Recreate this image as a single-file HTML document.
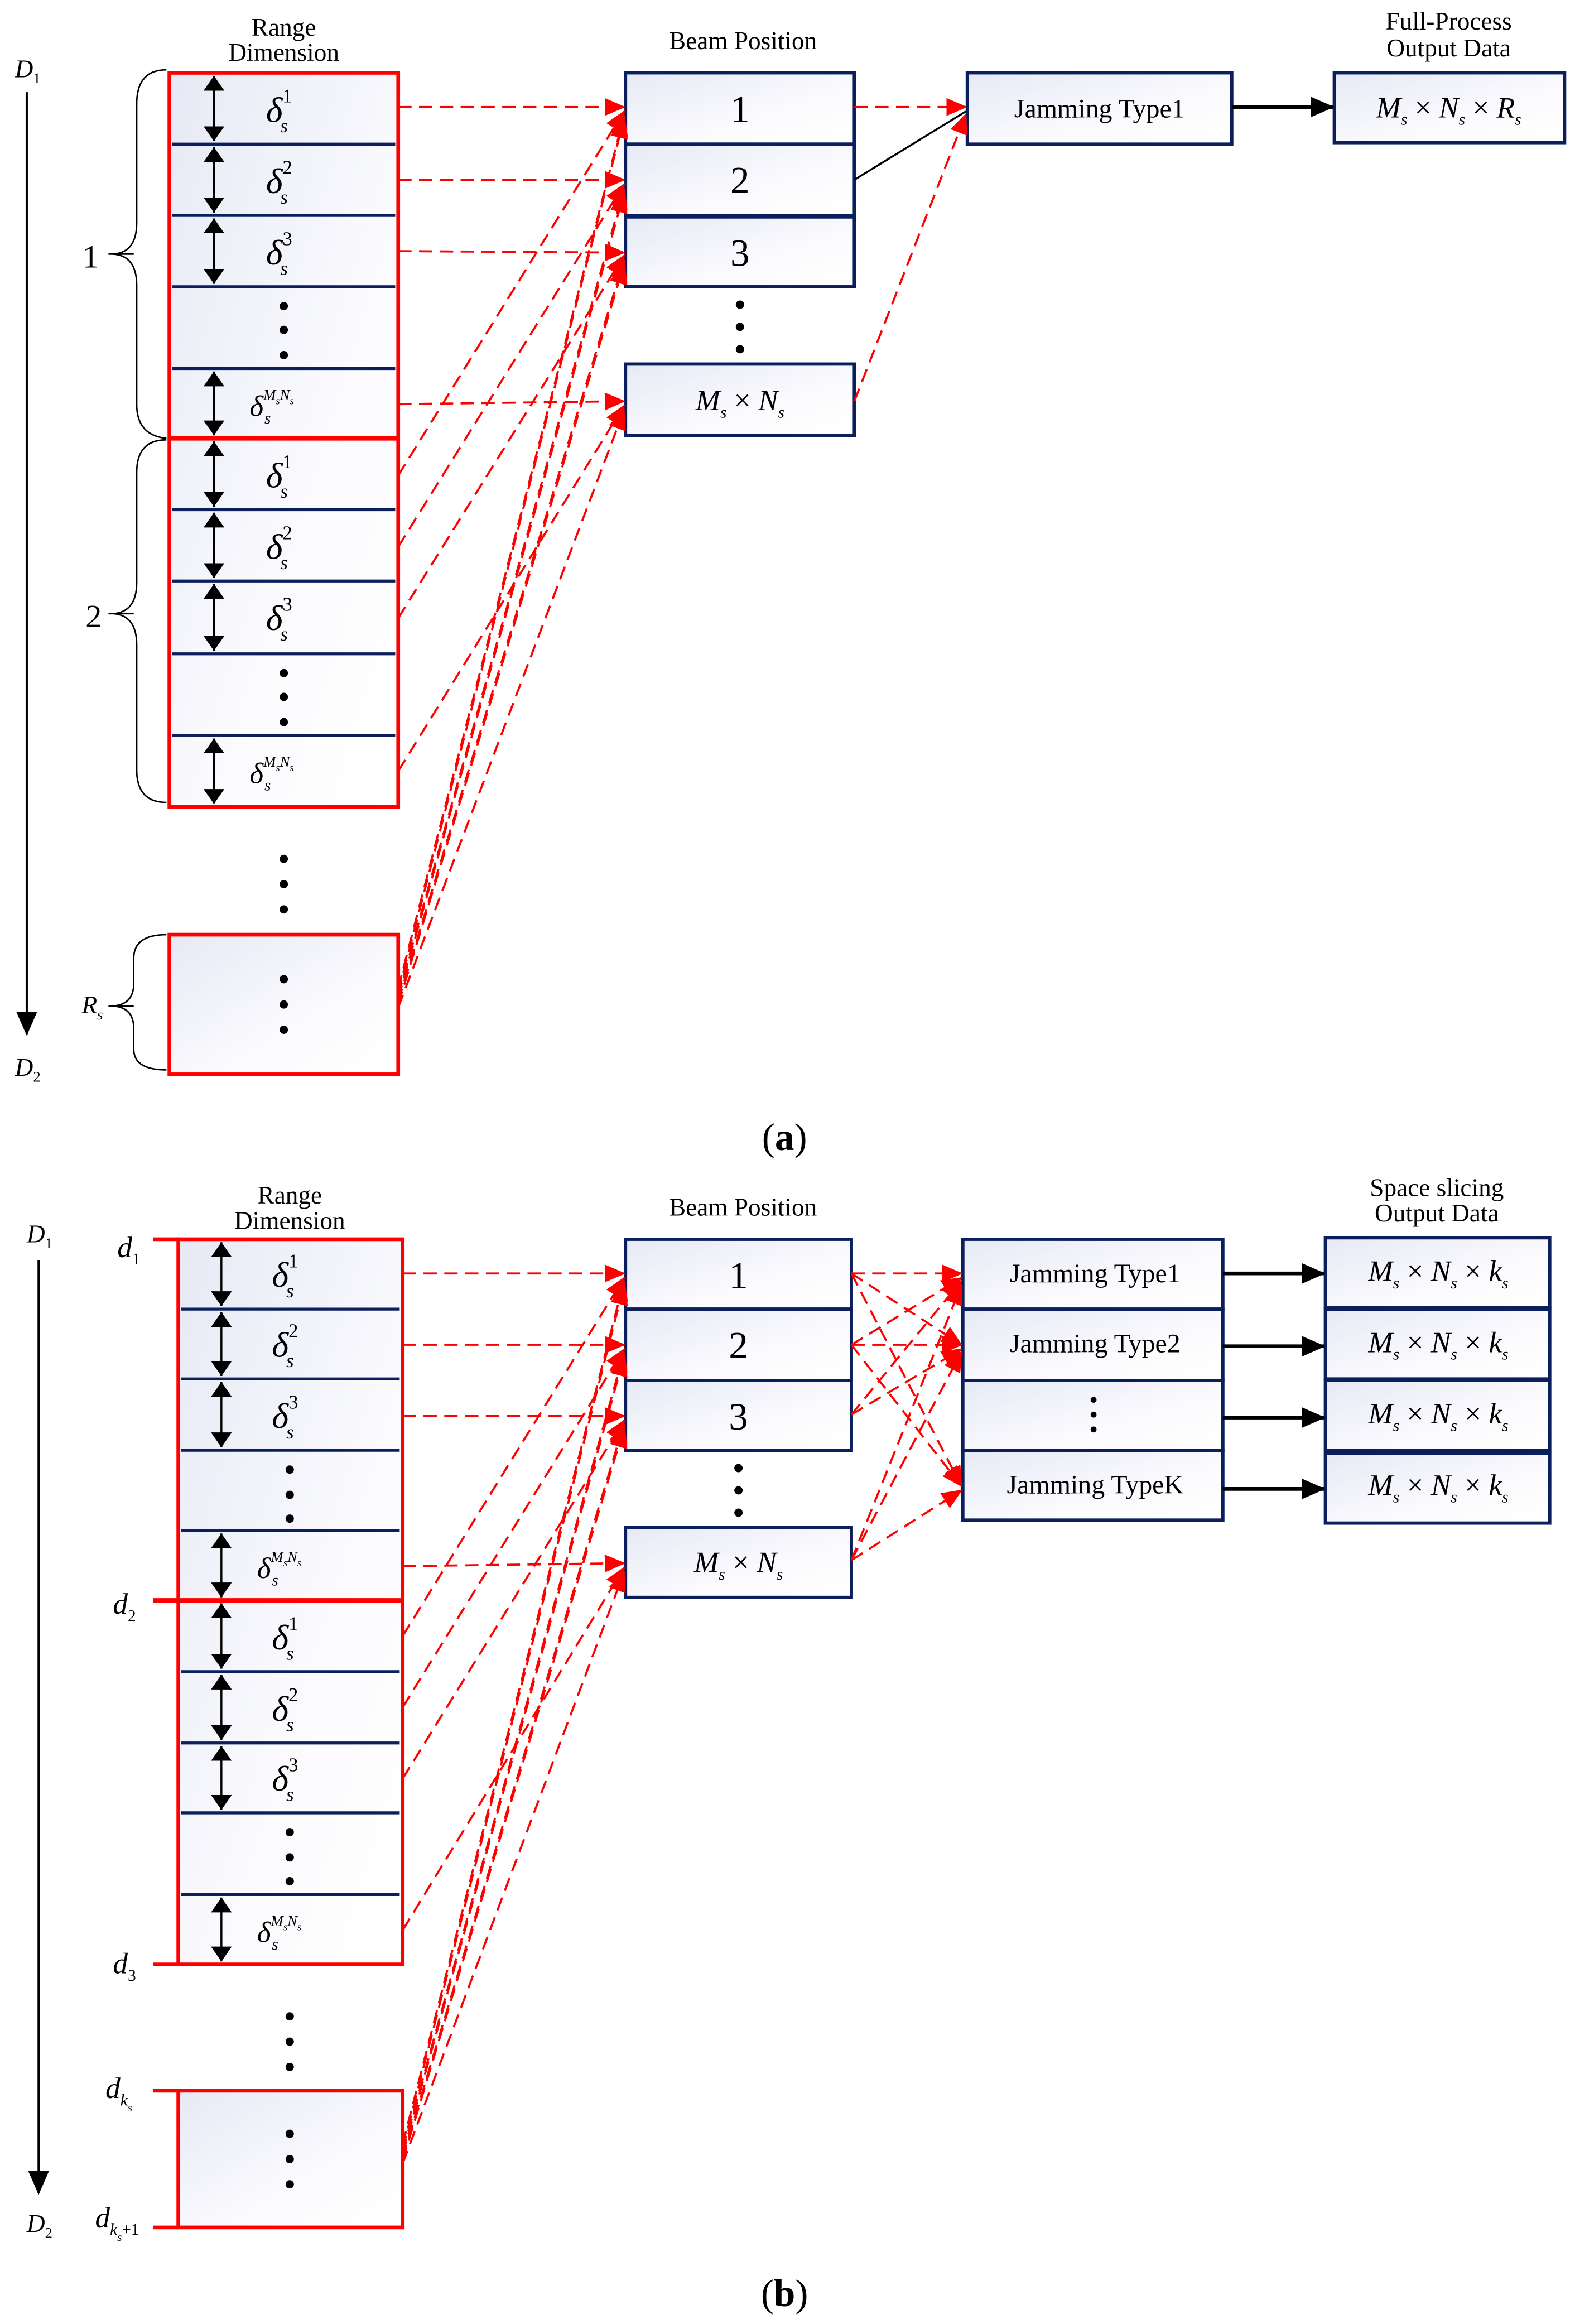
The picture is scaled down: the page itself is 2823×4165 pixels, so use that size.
<!DOCTYPE html>
<html><head><meta charset="utf-8"><style>
html,body{margin:0;padding:0;background:#fff;}
svg{display:block;}
text{font-family:"Liberation Serif",serif;fill:#000;}
.m{font-style:italic;}
.u{font-style:normal;}
</style></head><body>
<svg width="2823" height="4165" viewBox="0 0 1060 1564" preserveAspectRatio="none" xmlns="http://www.w3.org/2000/svg">
<defs>
<linearGradient id="g" x1="0" y1="0" x2="1" y2="1">
<stop offset="0" stop-color="#e6e9f5"/><stop offset="0.6" stop-color="#fbfbfe"/><stop offset="1" stop-color="#ffffff"/>
</linearGradient>
<marker id="ra" markerUnits="userSpaceOnUse" markerWidth="14" markerHeight="14" refX="13" refY="7" orient="auto"><path d="M0,1 L14,7 L0,13 z" fill="#f00"/></marker>
<marker id="ba" markerUnits="userSpaceOnUse" markerWidth="16" markerHeight="16" refX="15" refY="8" orient="auto"><path d="M0,1 L16,8 L0,15 z" fill="#000"/></marker>
<marker id="da" markerUnits="userSpaceOnUse" markerWidth="10" markerHeight="16" refX="10" refY="8" orient="auto"><path d="M0,1 L10,8 L0,15 z" fill="#000"/></marker>
<marker id="dab" markerUnits="userSpaceOnUse" markerWidth="10" markerHeight="16" refX="10" refY="8" orient="auto-start-reverse"><path d="M0,1 L10,8 L0,15 z" fill="#000"/></marker>
</defs>

<!-- ============ (a) ============ -->
<text x="191" y="24" font-size="17" text-anchor="middle">Range</text>
<text x="191" y="41" font-size="17" text-anchor="middle">Dimension</text>
<text x="500" y="33" font-size="17" text-anchor="middle">Beam Position</text>
<text x="975" y="20" font-size="17" text-anchor="middle">Full-Process</text>
<text x="975" y="38" font-size="17" text-anchor="middle">Output Data</text>

<rect x="114" y="49" width="154" height="494" fill="url(#g)"/>
<rect x="114" y="629" width="154" height="94" fill="url(#g)"/>
<g stroke="#0a1f5c" stroke-width="2">
<line x1="116" y1="97" x2="266" y2="97"/><line x1="116" y1="145" x2="266" y2="145"/><line x1="116" y1="193" x2="266" y2="193"/><line x1="116" y1="248" x2="266" y2="248"/>
<line x1="116" y1="343" x2="266" y2="343"/><line x1="116" y1="391" x2="266" y2="391"/><line x1="116" y1="440" x2="266" y2="440"/><line x1="116" y1="495" x2="266" y2="495"/>
</g>
<g stroke="#000" stroke-width="1.3" marker-start="url(#dab)" marker-end="url(#da)">
<line x1="144" y1="51" x2="144" y2="95"/><line x1="144" y1="99" x2="144" y2="143"/><line x1="144" y1="147" x2="144" y2="191"/><line x1="144" y1="250" x2="144" y2="293"/>
<line x1="144" y1="297" x2="144" y2="341"/><line x1="144" y1="345" x2="144" y2="389"/><line x1="144" y1="393" x2="144" y2="438"/><line x1="144" y1="497" x2="144" y2="541"/>
</g>
<rect x="114" y="49" width="154" height="494" fill="none" stroke="#f00" stroke-width="2.5"/>
<line x1="114" y1="295" x2="268" y2="295" stroke="#f00" stroke-width="3"/>
<rect x="114" y="629" width="154" height="94" fill="none" stroke="#f00" stroke-width="2.5"/>
<g fill="#000">
<circle cx="191" cy="206" r="2.8"/><circle cx="191" cy="222" r="2.8"/><circle cx="191" cy="239" r="2.8"/>
<circle cx="191" cy="453" r="2.8"/><circle cx="191" cy="469" r="2.8"/><circle cx="191" cy="486" r="2.8"/>
<circle cx="191" cy="578" r="2.8"/><circle cx="191" cy="595" r="2.8"/><circle cx="191" cy="612" r="2.8"/>
<circle cx="191" cy="659" r="2.8"/><circle cx="191" cy="676" r="2.8"/><circle cx="191" cy="693" r="2.8"/>
</g>
<g class="m" font-size="24">
<text x="179" y="82">δ<tspan class="u" font-size="13" dy="-13">1</tspan><tspan font-size="13" dx="-8" dy="20">s</tspan></text>
<text x="179" y="130">δ<tspan class="u" font-size="13" dy="-13">2</tspan><tspan font-size="13" dx="-8" dy="20">s</tspan></text>
<text x="179" y="178">δ<tspan class="u" font-size="13" dy="-13">3</tspan><tspan font-size="13" dx="-8" dy="20">s</tspan></text>
<text x="168" y="280" font-size="20">δ<tspan font-size="10" dy="-11">M</tspan><tspan font-size="7" dy="3">s</tspan><tspan font-size="10" dy="-3">N</tspan><tspan font-size="7" dy="3">s</tspan><tspan font-size="11" x="178" dy="13">s</tspan></text>
<text x="179" y="328">δ<tspan class="u" font-size="13" dy="-13">1</tspan><tspan font-size="13" dx="-8" dy="20">s</tspan></text>
<text x="179" y="376">δ<tspan class="u" font-size="13" dy="-13">2</tspan><tspan font-size="13" dx="-8" dy="20">s</tspan></text>
<text x="179" y="424">δ<tspan class="u" font-size="13" dy="-13">3</tspan><tspan font-size="13" dx="-8" dy="20">s</tspan></text>
<text x="168" y="527" font-size="20">δ<tspan font-size="10" dy="-11">M</tspan><tspan font-size="7" dy="3">s</tspan><tspan font-size="10" dy="-3">N</tspan><tspan font-size="7" dy="3">s</tspan><tspan font-size="11" x="178" dy="13">s</tspan></text>
</g>

<text x="10" y="52" font-size="17" class="m">D<tspan class="u" font-size="10" dy="4">1</tspan></text>
<line x1="18" y1="62" x2="18" y2="696" stroke="#000" stroke-width="1.5" marker-end="url(#ba)"/>
<text x="10" y="724" font-size="17" class="m">D<tspan class="u" font-size="10" dy="4">2</tspan></text>
<g fill="none" stroke="#000" stroke-width="1">
<path d="M112,47 Q92,47 92,70 L92,150 Q92,170 76,171 Q92,172 92,192 L92,272 Q92,293 112,295"/>
<line x1="73" y1="171" x2="90" y2="171"/>
<path d="M112,296 Q92,296 92,318 L92,392 Q92,412 76,413 Q92,414 92,434 L92,518 Q92,540 112,540"/>
<line x1="73" y1="413" x2="90" y2="413"/>
<path d="M112,629 Q90,629 90,645 L90,662 Q90,676 76,677 Q90,678 90,692 L90,706 Q90,720 112,720"/>
<line x1="73" y1="677" x2="90" y2="677"/>
</g>
<text x="61" y="180" font-size="22" text-anchor="middle" font-family="Liberation Sans">1</text>
<text x="63" y="422" font-size="22" text-anchor="middle" font-family="Liberation Sans">2</text>
<text x="55" y="682" font-size="17" class="m">R<tspan font-size="10" dy="4">s</tspan></text>

<g stroke="#0a1f5c" stroke-width="2.2" fill="url(#g)">
<rect x="421" y="49" width="154" height="48"/><rect x="421" y="97" width="154" height="48"/><rect x="421" y="146" width="154" height="47"/><rect x="421" y="245" width="154" height="48"/>
<rect x="651" y="49" width="178" height="48"/><rect x="898" y="49" width="155" height="47"/>
</g>
<g font-size="26" text-anchor="middle"><text x="498" y="82">1</text><text x="498" y="130">2</text><text x="498" y="179">3</text></g>
<g fill="#000"><circle cx="498" cy="205" r="2.8"/><circle cx="498" cy="220" r="2.8"/><circle cx="498" cy="235" r="2.8"/></g>
<text x="498" y="276" font-size="20" text-anchor="middle" class="m">M<tspan font-size="11" dy="5">s</tspan><tspan dy="-5" font-style="normal"> × </tspan>N<tspan font-size="11" dy="5">s</tspan></text>
<text x="740" y="79" font-size="18" text-anchor="middle">Jamming Type1</text>
<text x="975" y="79" font-size="20" text-anchor="middle" class="m">M<tspan font-size="11" dy="5">s</tspan><tspan dy="-5" font-style="normal"> × </tspan>N<tspan font-size="11" dy="5">s</tspan><tspan dy="-5" font-style="normal"> × </tspan>R<tspan font-size="11" dy="5">s</tspan></text>
<line x1="829" y1="72" x2="897" y2="72" stroke="#000" stroke-width="2.5" marker-end="url(#ba)"/>
<line x1="575" y1="121" x2="650" y2="75" stroke="#000" stroke-width="1.3"/>

<g stroke="#f00" stroke-width="1.4" stroke-dasharray="9,5" fill="none" marker-end="url(#ra)">
<line x1="268" y1="72" x2="420" y2="72"/><line x1="268" y1="121" x2="420" y2="121"/><line x1="268" y1="169" x2="420" y2="170"/><line x1="268" y1="272" x2="420" y2="270"/>
<line x1="268" y1="320" x2="420" y2="75"/><line x1="268" y1="368" x2="420" y2="124"/><line x1="268" y1="416" x2="420" y2="172"/><line x1="268" y1="519" x2="420" y2="273"/>
<line x1="268" y1="665" x2="420" y2="78"/><line x1="268" y1="668" x2="420" y2="80"/><line x1="268" y1="670" x2="420" y2="127"/><line x1="268" y1="672" x2="420" y2="130"/>
<line x1="268" y1="674" x2="420" y2="175"/><line x1="268" y1="676" x2="420" y2="178"/><line x1="268" y1="678" x2="420" y2="276"/>
<line x1="575" y1="72" x2="650" y2="72"/><line x1="575" y1="270" x2="650" y2="77"/>
</g>
<text x="528" y="774" font-size="26" text-anchor="middle">(<tspan font-weight="bold">a</tspan>)</text>

<!-- ============ (b) ============ -->
<text x="195" y="810" font-size="17" text-anchor="middle">Range</text>
<text x="195" y="827" font-size="17" text-anchor="middle">Dimension</text>
<text x="500" y="818" font-size="17" text-anchor="middle">Beam Position</text>
<text x="967" y="805" font-size="17" text-anchor="middle">Space slicing</text>
<text x="967" y="822" font-size="17" text-anchor="middle">Output Data</text>

<rect x="120" y="834" width="151" height="488" fill="url(#g)"/>
<rect x="120" y="1407" width="151" height="92" fill="url(#g)"/>
<g stroke="#0a1f5c" stroke-width="2">
<line x1="122" y1="881" x2="269" y2="881"/><line x1="122" y1="928" x2="269" y2="928"/><line x1="122" y1="976" x2="269" y2="976"/><line x1="122" y1="1030" x2="269" y2="1030"/>
<line x1="122" y1="1125" x2="269" y2="1125"/><line x1="122" y1="1173" x2="269" y2="1173"/><line x1="122" y1="1220" x2="269" y2="1220"/><line x1="122" y1="1275" x2="269" y2="1275"/>
</g>
<g stroke="#000" stroke-width="1.3" marker-start="url(#dab)" marker-end="url(#da)">
<line x1="149" y1="836" x2="149" y2="879"/><line x1="149" y1="883" x2="149" y2="926"/><line x1="149" y1="930" x2="149" y2="974"/><line x1="149" y1="1032" x2="149" y2="1075"/>
<line x1="149" y1="1079" x2="149" y2="1123"/><line x1="149" y1="1127" x2="149" y2="1171"/><line x1="149" y1="1175" x2="149" y2="1218"/><line x1="149" y1="1277" x2="149" y2="1320"/>
</g>
<rect x="120" y="834" width="151" height="488" fill="none" stroke="#f00" stroke-width="2.5"/>
<line x1="103" y1="1077" x2="271" y2="1077" stroke="#f00" stroke-width="3"/>
<rect x="120" y="1407" width="151" height="92" fill="none" stroke="#f00" stroke-width="2.5"/>
<g stroke="#f00" stroke-width="2.5">
<line x1="103" y1="834" x2="120" y2="834"/><line x1="103" y1="1322" x2="120" y2="1322"/><line x1="103" y1="1407" x2="120" y2="1407"/><line x1="103" y1="1499" x2="120" y2="1499"/>
</g>
<g fill="#000">
<circle cx="195" cy="989" r="2.8"/><circle cx="195" cy="1006" r="2.8"/><circle cx="195" cy="1022" r="2.8"/>
<circle cx="195" cy="1233" r="2.8"/><circle cx="195" cy="1250" r="2.8"/><circle cx="195" cy="1266" r="2.8"/>
<circle cx="195" cy="1357" r="2.8"/><circle cx="195" cy="1374" r="2.8"/><circle cx="195" cy="1391" r="2.8"/>
<circle cx="195" cy="1436" r="2.8"/><circle cx="195" cy="1453" r="2.8"/><circle cx="195" cy="1470" r="2.8"/>
</g>
<g class="m" font-size="24">
<text x="183" y="866">δ<tspan class="u" font-size="13" dy="-13">1</tspan><tspan font-size="13" dx="-8" dy="20">s</tspan></text>
<text x="183" y="913">δ<tspan class="u" font-size="13" dy="-13">2</tspan><tspan font-size="13" dx="-8" dy="20">s</tspan></text>
<text x="183" y="961">δ<tspan class="u" font-size="13" dy="-13">3</tspan><tspan font-size="13" dx="-8" dy="20">s</tspan></text>
<text x="173" y="1062" font-size="20">δ<tspan font-size="10" dy="-11">M</tspan><tspan font-size="7" dy="3">s</tspan><tspan font-size="10" dy="-3">N</tspan><tspan font-size="7" dy="3">s</tspan><tspan font-size="11" x="183" dy="13">s</tspan></text>
<text x="183" y="1110">δ<tspan class="u" font-size="13" dy="-13">1</tspan><tspan font-size="13" dx="-8" dy="20">s</tspan></text>
<text x="183" y="1158">δ<tspan class="u" font-size="13" dy="-13">2</tspan><tspan font-size="13" dx="-8" dy="20">s</tspan></text>
<text x="183" y="1205">δ<tspan class="u" font-size="13" dy="-13">3</tspan><tspan font-size="13" dx="-8" dy="20">s</tspan></text>
<text x="173" y="1307" font-size="20">δ<tspan font-size="10" dy="-11">M</tspan><tspan font-size="7" dy="3">s</tspan><tspan font-size="10" dy="-3">N</tspan><tspan font-size="7" dy="3">s</tspan><tspan font-size="11" x="183" dy="13">s</tspan></text>
</g>
<text x="18" y="836" font-size="17" class="m">D<tspan class="u" font-size="10" dy="4">1</tspan></text>
<line x1="26" y1="848" x2="26" y2="1476" stroke="#000" stroke-width="1.5" marker-end="url(#ba)"/>
<text x="18" y="1502" font-size="17" class="m">D<tspan class="u" font-size="10" dy="4">2</tspan></text>
<g class="m" font-size="20">
<text x="79" y="846">d<tspan class="u" font-size="11" dy="5">1</tspan></text>
<text x="76" y="1086">d<tspan class="u" font-size="11" dy="5">2</tspan></text>
<text x="76" y="1328">d<tspan class="u" font-size="11" dy="5">3</tspan></text>
<text x="71" y="1412">d<tspan font-size="11" dy="5">k</tspan><tspan font-size="8" dy="4">s</tspan></text>
<text x="64" y="1499">d<tspan font-size="11" dy="5">k</tspan><tspan font-size="8" dy="4">s</tspan><tspan font-size="11" dy="-4" font-style="normal">+1</tspan></text>
</g>

<g stroke="#0a1f5c" stroke-width="2.2" fill="url(#g)">
<rect x="421" y="834" width="152" height="47"/><rect x="421" y="881" width="152" height="48"/><rect x="421" y="929" width="152" height="47"/><rect x="421" y="1028" width="152" height="47"/>
<rect x="648" y="834" width="175" height="47"/><rect x="648" y="881" width="175" height="48"/><rect x="648" y="929" width="175" height="47"/><rect x="648" y="976" width="175" height="47"/>
<rect x="892" y="833" width="151" height="47"/><rect x="892" y="881" width="151" height="47"/><rect x="892" y="929" width="151" height="47"/><rect x="892" y="978" width="151" height="47"/>
</g>
<g font-size="26" text-anchor="middle"><text x="497" y="867">1</text><text x="497" y="914">2</text><text x="497" y="962">3</text></g>
<g fill="#000"><circle cx="497" cy="988" r="2.8"/><circle cx="497" cy="1003" r="2.8"/><circle cx="497" cy="1018" r="2.8"/>
<circle cx="736" cy="942" r="2"/><circle cx="736" cy="952" r="2"/><circle cx="736" cy="962" r="2"/></g>
<text x="497" y="1058" font-size="20" text-anchor="middle" class="m">M<tspan font-size="11" dy="5">s</tspan><tspan dy="-5" font-style="normal"> × </tspan>N<tspan font-size="11" dy="5">s</tspan></text>
<g font-size="18" text-anchor="middle"><text x="737" y="863">Jamming Type1</text><text x="737" y="910">Jamming Type2</text><text x="737" y="1005">Jamming TypeK</text></g>
<g font-size="20" text-anchor="middle" class="m">
<text x="968" y="862">M<tspan font-size="11" dy="5">s</tspan><tspan dy="-5" font-style="normal"> × </tspan>N<tspan font-size="11" dy="5">s</tspan><tspan dy="-5" font-style="normal"> × </tspan>k<tspan font-size="11" dy="5">s</tspan></text>
<text x="968" y="910">M<tspan font-size="11" dy="5">s</tspan><tspan dy="-5" font-style="normal"> × </tspan>N<tspan font-size="11" dy="5">s</tspan><tspan dy="-5" font-style="normal"> × </tspan>k<tspan font-size="11" dy="5">s</tspan></text>
<text x="968" y="958">M<tspan font-size="11" dy="5">s</tspan><tspan dy="-5" font-style="normal"> × </tspan>N<tspan font-size="11" dy="5">s</tspan><tspan dy="-5" font-style="normal"> × </tspan>k<tspan font-size="11" dy="5">s</tspan></text>
<text x="968" y="1006">M<tspan font-size="11" dy="5">s</tspan><tspan dy="-5" font-style="normal"> × </tspan>N<tspan font-size="11" dy="5">s</tspan><tspan dy="-5" font-style="normal"> × </tspan>k<tspan font-size="11" dy="5">s</tspan></text>
</g>
<g stroke="#000" stroke-width="2.5" marker-end="url(#ba)">
<line x1="823" y1="857" x2="891" y2="857"/><line x1="823" y1="906" x2="891" y2="906"/><line x1="823" y1="954" x2="891" y2="954"/><line x1="823" y1="1002" x2="891" y2="1002"/>
</g>

<g stroke="#f00" stroke-width="1.4" stroke-dasharray="9,5" fill="none" marker-end="url(#ra)">
<line x1="271" y1="857" x2="420" y2="857"/><line x1="271" y1="905" x2="420" y2="905"/><line x1="271" y1="953" x2="420" y2="953"/><line x1="271" y1="1054" x2="420" y2="1052"/>
<line x1="271" y1="1101" x2="420" y2="860"/><line x1="271" y1="1149" x2="420" y2="908"/><line x1="271" y1="1197" x2="420" y2="956"/><line x1="271" y1="1299" x2="420" y2="1055"/>
<line x1="271" y1="1443" x2="420" y2="862"/><line x1="271" y1="1446" x2="420" y2="865"/><line x1="271" y1="1448" x2="420" y2="910"/><line x1="271" y1="1450" x2="420" y2="913"/>
<line x1="271" y1="1452" x2="420" y2="958"/><line x1="271" y1="1454" x2="420" y2="961"/><line x1="271" y1="1456" x2="420" y2="1058"/>
<line x1="573" y1="857" x2="647" y2="857"/><line x1="573" y1="857" x2="647" y2="905"/><line x1="573" y1="857" x2="647" y2="1000"/>
<line x1="573" y1="905" x2="647" y2="905"/><line x1="573" y1="905" x2="647" y2="860"/><line x1="573" y1="905" x2="647" y2="1000"/>
<line x1="573" y1="952" x2="647" y2="862"/><line x1="573" y1="952" x2="647" y2="908"/>
<line x1="573" y1="1050" x2="647" y2="865"/><line x1="573" y1="1050" x2="647" y2="910"/><line x1="573" y1="1050" x2="647" y2="1003"/>
</g>
<text x="528" y="1552" font-size="26" text-anchor="middle">(<tspan font-weight="bold">b</tspan>)</text>
</svg>
</body></html>
